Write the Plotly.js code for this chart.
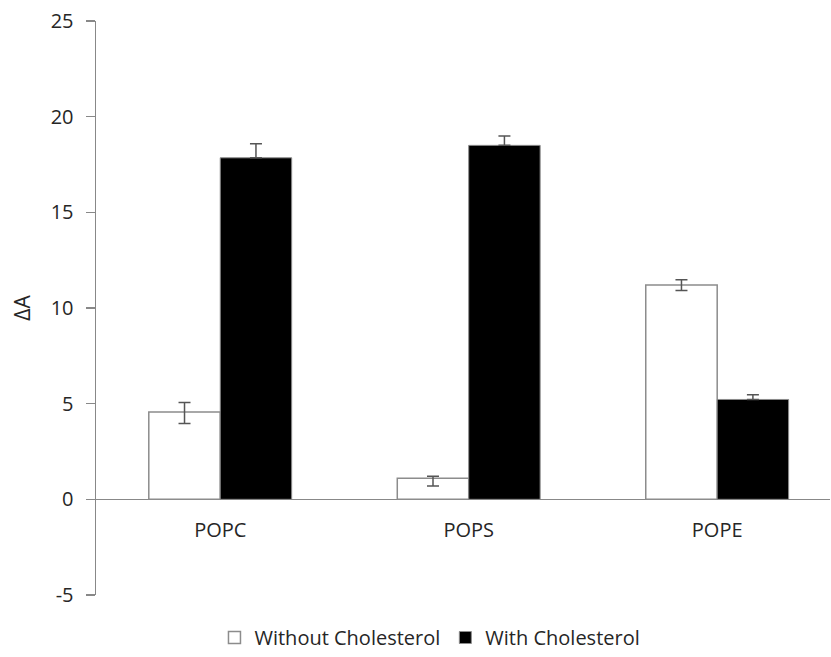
<!DOCTYPE html>
<html><head><meta charset="utf-8">
<script src="https://cdn.plot.ly/plotly-3.0.1.min.js"></script>
<style>html,body{margin:0;padding:0;background:#fff}</style>
</head><body>
<div id="chart" style="width:831px;height:657px"></div>
<script>
const categories = ["POPC", "POPS", "POPE"];
const withoutChol = [4.56, 1.1, 11.2];
const withoutErrPlus = [0.5, 0.1, 0.28];
const withoutErrMinus = [0.6, 0.4, 0.28];
const withChol = [17.85, 18.5, 5.22];
const withErr = [0.73, 0.49, 0.25];
const withErrMinus = [0, 0, 0];
const yTicks = [-5, 0, 5, 10, 15, 20, 25];
const yTickText = ["-5", "0", "5", "10", "15", "20", "25"];

const font = {family: "Open Sans, sans-serif", size: 20, color: "#262626"};

const traces = [
  {type: "bar", name: "Without Cholesterol", x: categories, y: withoutChol,
   marker: {color: "#ffffff", line: {color: "#8c8c8c", width: 1.5}},
   error_y: {type: "data", symmetric: false, array: withoutErrPlus, arrayminus: withoutErrMinus,
             color: "#555555", thickness: 1.5, width: 6}},
  {type: "bar", name: "With Cholesterol", x: categories, y: withChol,
   marker: {color: "#000000", line: {color: "#8c8c8c", width: 1}},
   error_y: {type: "data", symmetric: false, array: withErr, arrayminus: withErrMinus,
             color: "#555555", thickness: 1.5, width: 6}}
];

const layout = {
  width: 831, height: 657,
  margin: {l: 96, r: 1, t: 21, b: 61},
  paper_bgcolor: "#fff", plot_bgcolor: "#fff",
  font: font,
  barmode: "group", bargap: 0.425, bargroupgap: 0,
  showlegend: true,
  legend: {orientation: "h", x: 0.455, xanchor: "center", y: -0.073, yanchor: "middle",
           font: font, traceorder: "normal", itemwidth: 30},
  xaxis: {type: "category", range: [-0.5, 2.454], anchor: "free", position: 0.167,
          showline: false, ticks: "", showgrid: false, zeroline: false,
          tickfont: font, ticklabelstandoff: 17},
  yaxis: {range: [-5, 25], tickvals: yTicks, ticktext: yTickText, ticks: "outside", ticklen: 9, tickcolor: "#888",
          tickwidth: 1.5, showline: true, linecolor: "#888", linewidth: 1.5,
          showgrid: false, zeroline: true, zerolinecolor: "#888", zerolinewidth: 1.5,
          tickfont: font, ticklabelstandoff: 8,
          title: {text: "ΔA", font: {family: "Open Sans, sans-serif", size: 21, color: "#262626"}, standoff: 14}}
};

Plotly.newPlot("chart", traces, layout, {displayModeBar: false, staticPlot: true});
</script>
</body></html>
